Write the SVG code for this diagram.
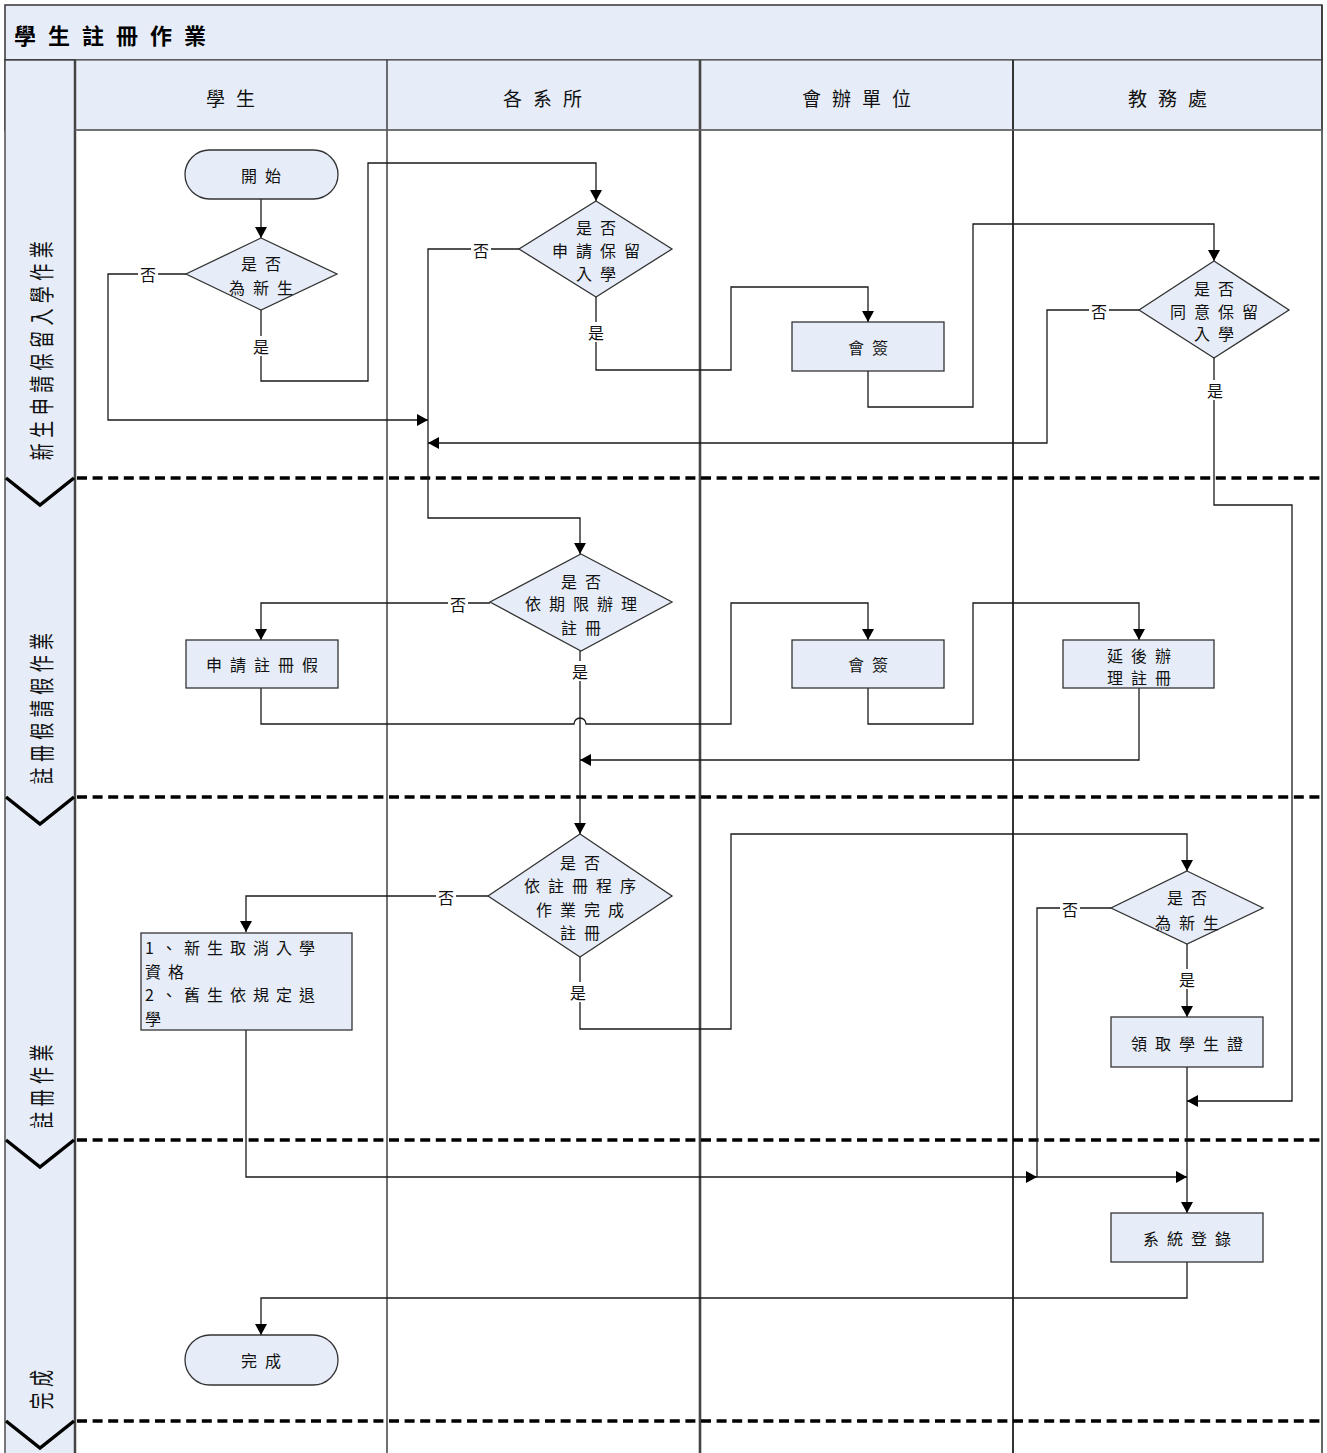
<svg xmlns="http://www.w3.org/2000/svg" width="1327" height="1453" viewBox="0 0 1327 1453">
<defs>
<style>
.t{font-family:"Noto Sans CJK TC","Noto Sans CJK SC",sans-serif;font-size:16px;fill:#111;letter-spacing:8px;dominant-baseline:central;text-anchor:middle}
.tl{font-family:"Noto Sans CJK TC","Noto Sans CJK SC",sans-serif;font-size:16px;fill:#111;letter-spacing:7px;dominant-baseline:central;text-anchor:start}
.lb{font-family:"Noto Sans CJK TC","Noto Sans CJK SC",sans-serif;font-size:16px;fill:#111;dominant-baseline:central;text-anchor:middle}
.hd{font-family:"Noto Sans CJK TC","Noto Sans CJK SC",sans-serif;font-size:19px;fill:#111;letter-spacing:11px;dominant-baseline:central;text-anchor:middle}
.ph{font-family:"Noto Sans CJK TC","Noto Sans CJK SC",sans-serif;font-size:25px;fill:#111;letter-spacing:8px;dominant-baseline:central;text-anchor:middle}
.title{font-family:"Noto Sans CJK TC","Noto Sans CJK SC",sans-serif;font-size:22px;font-weight:700;fill:#000;letter-spacing:12px;dominant-baseline:central}
.node{fill:#e6edf8;stroke:#333;stroke-width:1.3}
.c{fill:none;stroke:#1a1a1a;stroke-width:1.3}
.ca{fill:none;stroke:#1a1a1a;stroke-width:1.3;marker-end:url(#arr)}
.dash{stroke:#000;stroke-width:3.5;stroke-dasharray:10 5.6}
.chev{fill:none;stroke:#000;stroke-width:3.5}
.bg{fill:#fff}
</style>
<marker id="arr" viewBox="0 0 11 12" refX="11" refY="6" markerWidth="11" markerHeight="12" markerUnits="userSpaceOnUse" orient="auto"><path d="M0,0 L11,6 L0,12 z" fill="#000"/></marker>
</defs>

<g id="frame">
<rect x="0" y="0" width="1327" height="1453" fill="#fff"/>
<rect x="5" y="5" width="1317" height="55" fill="#e6edf8" stroke="#333" stroke-width="1.5"/>
<text class="title" x="14" y="34">學生註冊作業</text>
<rect x="5" y="60" width="1317" height="70" fill="#e6edf8" stroke="#555" stroke-width="1.2"/>
<rect x="5" y="60" width="70" height="1400" fill="#e6edf8" stroke="#333" stroke-width="1.3"/>
<line x1="75" y1="60" x2="75" y2="1453" stroke="#444" stroke-width="2.5"/>
<line x1="387" y1="60" x2="387" y2="1453" stroke="#222" stroke-width="1.3"/>
<line x1="700" y1="60" x2="700" y2="1453" stroke="#444" stroke-width="2.6"/>
<line x1="1013" y1="60" x2="1013" y2="1453" stroke="#333" stroke-width="2"/>
<line x1="1322" y1="5" x2="1322" y2="1453" stroke="#333" stroke-width="1.5"/>
<line x1="75" y1="130" x2="1322" y2="130" stroke="#666" stroke-width="1.5"/>
<text class="hd" x="236" y="97">學生</text>
<text class="hd" x="548" y="97">各系所</text>
<text class="hd" x="862" y="97">會辦單位</text>
<text class="hd" x="1173" y="97">教務處</text>
</g>

<g id="phases">
<line class="dash" x1="77" y1="478" x2="1322" y2="478"/>
<line class="dash" x1="77" y1="797" x2="1322" y2="797"/>
<line class="dash" x1="77" y1="1140" x2="1322" y2="1140"/>
<line class="dash" x1="77" y1="1421" x2="1322" y2="1421"/>
<polyline class="chev" points="6,478 40,505 74,478"/>
<polyline class="chev" points="6,797 40,824 74,797"/>
<polyline class="chev" points="6,1140 40,1167 74,1140"/>
<polyline class="chev" points="6,1421 40,1448 74,1421"/>
<text class="ph" transform="translate(40,348) rotate(-90) scale(0.68,1)">新生申請保留入學作業</text>
<text class="ph" transform="translate(40,706) rotate(-90) scale(0.68,1)">註冊假請假作業</text>
<text class="ph" transform="translate(40,1084) rotate(-90) scale(0.68,1)">註冊作業</text>
<text class="ph" transform="translate(40,1387) rotate(-90) scale(0.68,1)">完成</text>
</g>

<g id="connectors">
<path class="ca" d="M261,199 V238"/>
<path class="ca" d="M261,310 V381 H368 V163 H596 V201"/>
<path class="ca" d="M186,274 H108 V420 H428"/>
<path class="ca" d="M519,249 H428 V518 H580 V554"/>
<path class="ca" d="M596,297 V370 H731 V287 H868 V322"/>
<path class="ca" d="M868,371 V407 H973 V224 H1214 V261"/>
<path class="ca" d="M1139,310 H1047 V443 H428"/>
<path class="ca" d="M1214,358 V505 H1292 V1101 H1187"/>
<path class="ca" d="M490,603 H261 V640"/>
<path class="ca" d="M261,688 V724 H574 A6,6 0 0 1 586,724 H731 V603 H868 V640"/>
<path class="ca" d="M868,688 V724 H973 V603 H1139 V640"/>
<path class="ca" d="M1139,688 V760 H580"/>
<path class="ca" d="M580,651 V834"/>
<path class="ca" d="M488,896 H246 V932"/>
<path class="ca" d="M580,957 V1029 H731 V834 H1187 V871"/>
<path class="ca" d="M1111,908 H1037 V1177 H1187"/>
<path class="ca" d="M246,1030 V1177 H1037"/>
<path class="ca" d="M1187,944 V1017"/>
<path class="ca" d="M1187,1067 V1213"/>
<path class="ca" d="M1187,1262 V1298 H261 V1335"/>
</g>

<g id="labels">
<rect class="bg" x="138" y="264" width="20" height="20"/><text class="lb" x="148" y="274">否</text>
<rect class="bg" x="251" y="336" width="20" height="20"/><text class="lb" x="261" y="346">是</text>
<rect class="bg" x="471" y="240" width="20" height="20"/><text class="lb" x="481" y="250">否</text>
<rect class="bg" x="586" y="322" width="20" height="20"/><text class="lb" x="596" y="332">是</text>
<rect class="bg" x="1089" y="301" width="20" height="20"/><text class="lb" x="1099" y="311">否</text>
<rect class="bg" x="1205" y="380" width="20" height="20"/><text class="lb" x="1215" y="390">是</text>
<rect class="bg" x="448" y="594" width="20" height="20"/><text class="lb" x="458" y="604">否</text>
<rect class="bg" x="570" y="661" width="20" height="20"/><text class="lb" x="580" y="671">是</text>
<rect class="bg" x="436" y="887" width="20" height="20"/><text class="lb" x="446" y="897">否</text>
<rect class="bg" x="568" y="982" width="20" height="20"/><text class="lb" x="578" y="992">是</text>
<rect class="bg" x="1060" y="899" width="20" height="20"/><text class="lb" x="1070" y="909">否</text>
<rect class="bg" x="1177" y="969" width="20" height="20"/><text class="lb" x="1187" y="979">是</text>
</g>

<g id="n-start">
<rect class="node" x="185" y="150" width="153" height="49" rx="24.5"/>
<text class="t" x="265" y="175">開始</text>
</g>
<g id="n-d1">
<polygon class="node" points="261,238 337,274 261,310 186,274"/>
<text class="t" x="265" y="263">是否</text>
<text class="t" x="265" y="287">為新生</text>
</g>
<g id="n-d2">
<polygon class="node" points="596,201 672,249 596,297 519,249"/>
<text class="t" x="600" y="227">是否</text>
<text class="t" x="600" y="250">申請保留</text>
<text class="t" x="600" y="273">入學</text>
</g>
<g id="n-sign1">
<rect class="node" x="792" y="322" width="152" height="49"/>
<text class="t" x="872" y="347">會簽</text>
</g>
<g id="n-d4">
<polygon class="node" points="1214,261 1289,310 1214,358 1139,310"/>
<text class="t" x="1218" y="288">是否</text>
<text class="t" x="1218" y="311">同意保留</text>
<text class="t" x="1218" y="333">入學</text>
</g>
<g id="n-d3">
<polygon class="node" points="581,554 672,602 581,651 490,602"/>
<text class="t" x="585" y="581">是否</text>
<text class="t" x="585" y="603">依期限辦理</text>
<text class="t" x="585" y="627">註冊</text>
</g>
<g id="n-leave">
<rect class="node" x="186" y="640" width="152" height="48"/>
<text class="t" x="266" y="664">申請註冊假</text>
</g>
<g id="n-sign2">
<rect class="node" x="792" y="640" width="152" height="48"/>
<text class="t" x="872" y="664">會簽</text>
</g>
<g id="n-delay">
<rect class="node" x="1063" y="640" width="151" height="48"/>
<text class="t" x="1143" y="655">延後辦</text>
<text class="t" x="1143" y="677">理註冊</text>
</g>
<g id="n-d5">
<polygon class="node" points="580,834 672,896 580,957 488,896"/>
<text class="t" x="584" y="862">是否</text>
<text class="t" x="584" y="885">依註冊程序</text>
<text class="t" x="584" y="909">作業完成</text>
<text class="t" x="584" y="932">註冊</text>
</g>
<g id="n-cancel">
<rect class="node" x="141" y="933" width="211" height="97"/>
<text class="tl" x="145" y="947">1、新生取消入學</text>
<text class="tl" x="145" y="971">資格</text>
<text class="tl" x="145" y="994">2、舊生依規定退</text>
<text class="tl" x="145" y="1018">學</text>
</g>
<g id="n-d6">
<polygon class="node" points="1187,871 1263,908 1187,944 1111,908"/>
<text class="t" x="1191" y="897">是否</text>
<text class="t" x="1191" y="922">為新生</text>
</g>
<g id="n-card">
<rect class="node" x="1111" y="1017" width="152" height="50"/>
<text class="t" x="1191" y="1043">領取學生證</text>
</g>
<g id="n-login">
<rect class="node" x="1111" y="1213" width="152" height="49"/>
<text class="t" x="1191" y="1238">系統登錄</text>
</g>
<g id="n-end">
<rect class="node" x="185" y="1335" width="153" height="50" rx="25"/>
<text class="t" x="265" y="1360">完成</text>
</g>
</svg>
